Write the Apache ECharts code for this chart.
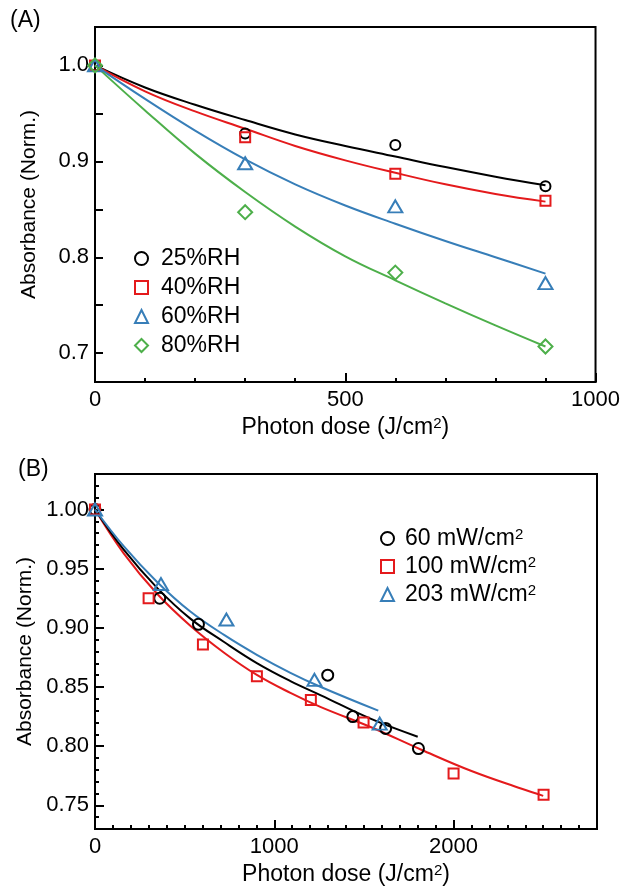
<!DOCTYPE html>
<html><head><meta charset="utf-8">
<script src="https://cdn.jsdelivr.net/npm/echarts@6/dist/echarts.min.js"></script>
<style>html,body{margin:0;padding:0;background:#fff}#c{width:623px;height:890px}</style>
</head><body><div id="c"></div>
<script>
// ---------- Panel A data ----------
const doseA = [0, 300, 600, 900];
const rh25 = [1.0, 0.929, 0.917, 0.874];
const rh40 = [1.0, 0.925, 0.887, 0.859];
const rh60 = [1.0, 0.898, 0.853, 0.773];
const rh80 = [1.0, 0.847, 0.784, 0.707];
const fitDoseA = [0, 100, 200, 300, 400, 500, 600, 700, 800, 900];
const fit25 = [1.0, 0.977, 0.959, 0.943, 0.928, 0.916, 0.905, 0.894, 0.884, 0.875];
const fit40 = [1.0, 0.973, 0.952, 0.934, 0.916, 0.901, 0.888, 0.876, 0.866, 0.858];
const fit60 = [1.0, 0.965, 0.932, 0.902, 0.876, 0.854, 0.835, 0.817, 0.800, 0.783];
const fit80 = [1.0, 0.953, 0.908, 0.868, 0.832, 0.801, 0.776, 0.752, 0.729, 0.707];
const namesA = ['25%RH', '40%RH', '60%RH', '80%RH'];
const yLabelsA = [0.7, 0.8, 0.9, 1.0];
const yTicksA = [0.7, 0.75, 0.8, 0.85, 0.9, 0.95, 1.0];

// ---------- Panel B data ----------
const dose60 = [0, 361, 577, 1298, 1438, 1621, 1804];
const abs60 = [1.0, 0.925, 0.903, 0.860, 0.825, 0.815, 0.798];
const dose100 = [0, 299, 602, 903, 1204, 1498, 2000, 2502];
const abs100 = [1.0, 0.925, 0.886, 0.859, 0.839, 0.820, 0.777, 0.759];
const dose203 = [0, 368, 733, 1224, 1588];
const abs203 = [1.0, 0.937, 0.907, 0.856, 0.819];
const fitDose60 = [0, 160, 345, 530, 720, 905, 1090, 1260, 1540, 1800];
const fitAbs60 = [1.0, 0.966, 0.934, 0.908, 0.888, 0.870, 0.855, 0.843, 0.823, 0.808];
const fitDose203 = [0, 160, 345, 530, 720, 905, 1090, 1260, 1580];
const fitAbs203 = [1.0, 0.969, 0.939, 0.914, 0.894, 0.877, 0.862, 0.850, 0.830];
const fitDose100 = [0, 160, 345, 530, 720, 905, 1090, 1260, 1540, 1820, 2100, 2380, 2500];
const fitAbs100 = [1.0, 0.963, 0.929, 0.902, 0.879, 0.860, 0.845, 0.833, 0.816, 0.797, 0.779, 0.764, 0.758];
const namesB = ['60 mW/cm', '100 mW/cm', '203 mW/cm'];
const yLabelsB = [0.75, 0.80, 0.85, 0.90, 0.95, 1.00];

const FONT = '"Liberation Sans", Arial, Helvetica, sans-serif';
const BLACK = '#000000', RED = '#e41a1c', BLUE = '#377eb8', GREEN = '#4daf4a';
const pts = (xs, ys) => xs.map((x, i) => [x, ys[i]]);
const CLEAR = 'rgba(0,0,0,0)';

function mainX(grid, max, interval, name) {
  return {
    type: 'value', gridIndex: grid, min: 0, max, interval, position: 'bottom',
    name, nameLocation: 'middle', nameGap: 34,
    nameTextStyle: { color: BLACK, fontFamily: FONT, fontSize: 23,
      rich: { a: { fontSize: 23, fontFamily: FONT, color: BLACK, lineHeight: 24 },
              s: { fontSize: 15, fontFamily: FONT, color: BLACK, verticalAlign: 'top', lineHeight: 15 } } },
    axisLine: { show: true, onZero: false, lineStyle: { color: BLACK, width: 2 } },
    axisTick: { show: true, inside: true, length: 9, lineStyle: { color: BLACK, width: 2 } },
    axisLabel: { show: true, margin: 7, color: BLACK, fontFamily: FONT, fontSize: 22, showMaxLabel: max % interval === 0,
      formatter: v => String(Math.round(v)) },
    splitLine: { show: false }
  };
}
function minorX(grid, max, interval) {
  return {
    type: 'value', gridIndex: grid, min: 0, max, interval, position: 'top', offset: -355,
    axisLine: { show: false, onZero: false },
    axisTick: { show: true, inside: false, length: 4, lineStyle: { color: BLACK, width: 2 } },
    axisLabel: { show: false }, splitLine: { show: false }
  };
}
function mainY(grid, min, max, labels, ticks, digits, tickLen) {
  return {
    type: 'value', gridIndex: grid, min, max, position: 'left',
    name: 'Absorbance (Norm.)', nameLocation: 'middle', nameGap: 55,
    nameTextStyle: { color: BLACK, fontFamily: FONT, fontSize: 21 },
    axisLine: { show: true, onZero: false, lineStyle: { color: BLACK, width: 2 } },
    axisTick: { show: true, inside: true, length: tickLen, lineStyle: { color: BLACK, width: 2 }, customValues: ticks },
    axisLabel: { show: true, margin: 6, color: BLACK, fontFamily: FONT, fontSize: 22, customValues: labels, formatter: v => v.toFixed(digits) },
    splitLine: { show: false }
  };
}
function minorY(grid, min, max, interval) {
  return {
    type: 'value', gridIndex: grid, min, max, interval, position: 'right', offset: -502,
    axisLine: { show: false, onZero: false },
    axisTick: { show: true, inside: false, length: 4, lineStyle: { color: BLACK, width: 2 } },
    axisLabel: { show: false }, splitLine: { show: false }
  };
}
function fitLine(name, xi, yi, data, color) {
  return { type: 'line', name, xAxisIndex: xi, yAxisIndex: yi, data, smooth: 0.4, showSymbol: false,
    symbol: 'none', lineStyle: { color, width: 2 }, itemStyle: { color }, z: 2, silent: true };
}
function marks(name, xi, yi, data, color, symbol, size) {
  return { type: 'scatter', name, xAxisIndex: xi, yAxisIndex: yi, data, symbol, symbolSize: size,
    itemStyle: { color: CLEAR, borderColor: color, borderWidth: 2, opacity: 1 }, z: 3, silent: true };
}
function legItem(name, icon, color) {
  return { name, icon, itemStyle: { color: CLEAR, borderColor: color, borderWidth: 2 } };
}

const xTitle = '{a|Photon dose (J/cm}{s|2}{a|)}';
const gA = { left: 95, right: 26, top: 27, height: 355 };
const gB = { left: 95, right: 26, top: 474, height: 355 };
const option = {
  animation: false,
  backgroundColor: '#ffffff',
  textStyle: { fontFamily: FONT },
  grid: [
    Object.assign({ show: true, borderColor: BLACK, borderWidth: 2, backgroundColor: CLEAR }, gA),
    Object.assign({ show: true, borderColor: BLACK, borderWidth: 2, backgroundColor: CLEAR }, gB)
  ],
  xAxis: [
    mainX(0, 1000, 500, xTitle),
    mainX(1, 2800, 1000, xTitle),
    minorX(0, 1000, 100),
    minorX(1, 2800, 100)
  ],
  yAxis: [
    mainY(0, 0.67, 1.04, yLabelsA, yTicksA, 1, 8),
    mainY(1, 0.73, 1.03, yLabelsB, yLabelsB, 2, 9),
    minorY(1, 0.73, 1.03, 0.01)
  ],
  legend: [
    { orient: 'vertical', left: 129, top: 242, itemWidth: 13, itemHeight: 13, itemGap: 6,
      selectedMode: false,
      formatter: n => '{t|' + n + '}',
      textStyle: { color: BLACK, fontFamily: FONT, fontSize: 23,
        rich: { t: { fontSize: 23, fontFamily: FONT, color: BLACK, lineHeight: 22, padding: [0, 0, 0, 8] } } },
      data: [legItem(namesA[0], 'circle', BLACK), legItem(namesA[1], 'rect', RED),
             legItem(namesA[2], 'triangle', BLUE), legItem(namesA[3], 'diamond', GREEN)] },
    { orient: 'vertical', left: 375, top: 522, itemWidth: 13, itemHeight: 13, itemGap: 5,
      selectedMode: false,
      formatter: n => '{t|' + n + '}{s|2}',
      textStyle: { color: BLACK, fontFamily: FONT, fontSize: 23,
        rich: { t: { fontSize: 23, fontFamily: FONT, color: BLACK, lineHeight: 22, padding: [0, 0, 0, 6] },
                s: { fontSize: 15, fontFamily: FONT, color: BLACK, lineHeight: 15, verticalAlign: 'top' } } },
      data: [legItem(namesB[0], 'circle', BLACK), legItem(namesB[1], 'rect', RED),
             legItem(namesB[2], 'triangle', BLUE)] }
  ],
  graphic: [
    { type: 'text', left: 10, top: 9, style: { text: '(A)', fill: BLACK, font: '23px ' + FONT } },
    { type: 'text', left: 18, top: 458, style: { text: '(B)', fill: BLACK, font: '23px ' + FONT } }
  ],
  series: [
    fitLine('f25', 0, 0, pts(fitDoseA, fit25), BLACK),
    fitLine('f40', 0, 0, pts(fitDoseA, fit40), RED),
    fitLine('f60', 0, 0, pts(fitDoseA, fit60), BLUE),
    fitLine('f80', 0, 0, pts(fitDoseA, fit80), GREEN),
    marks(namesA[0], 0, 0, pts(doseA, rh25), BLACK, 'circle', 10),
    marks(namesA[1], 0, 0, pts(doseA, rh40), RED, 'rect', 10),
    marks(namesA[2], 0, 0, pts(doseA, rh60), BLUE, 'triangle', [14, 12]),
    marks(namesA[3], 0, 0, pts(doseA, rh80), GREEN, 'diamond', [14, 14]),
    fitLine('g100', 1, 1, pts(fitDose100, fitAbs100), RED),
    fitLine('g60', 1, 1, pts(fitDose60, fitAbs60), BLACK),
    fitLine('g203', 1, 1, pts(fitDose203, fitAbs203), BLUE),
    marks(namesB[0], 1, 1, pts(dose60, abs60), BLACK, 'circle', 11),
    marks(namesB[1], 1, 1, pts(dose100, abs100), RED, 'rect', 10),
    marks(namesB[2], 1, 1, pts(dose203, abs203), BLUE, 'triangle', [14, 12])
  ]
};
const chart = echarts.init(document.getElementById('c'), null, { renderer: 'canvas' });
chart.setOption(option);
</script>
</body></html>
